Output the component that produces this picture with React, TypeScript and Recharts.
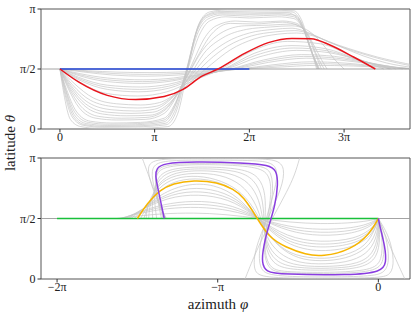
import { LineChart, Line, XAxis, YAxis, ReferenceArea } from 'recharts'

type Pt = [number, number | null]

// azimuth and latitude are both stored in units of pi
const yTicks = [0, 0.5, 1]
const yTickLabels = ['0', 'π/2', 'π']
const topXTicks = [0, 1, 2, 3]
const topXTickLabels = ['0', 'π', '2π', '3π']
const bottomXTicks = [-2, -1, 0]
const bottomXTickLabels = ['−2π', '−π', '0']

const topBlue: Pt[] = [[0, 0.5], [2, 0.5]]
const topRed: Pt[] = [
  [0, 0.5], [0.2, 0.39], [0.5, 0.28], [0.8, 0.245], [1.1, 0.27], [1.3, 0.33], [1.5, 0.44],
  [1.67, 0.5], [1.95, 0.63], [2.2, 0.72], [2.45, 0.755], [2.65, 0.752], [2.85, 0.7],
  [3.1, 0.6], [3.33, 0.5],
]
const topGray: Pt[][] = [
  [[0, .5], [0.3, .485], [0.6, .474], [0.95, .47], [1.3, .476], [1.6, .488], [1.95, .5], [2.3, .515], [2.7, .53], [3.1, .525], [3.45, .512], [3.8, .5]],
  [[0, .5], [0.27, .48], [0.57, .462], [0.92, .455], [1.27, .463], [1.57, .48], [1.92, .5], [2.27, .525], [2.67, .545], [3.05, .537], [3.4, .518], [3.78, .5]],
  [[0, .5], [0.25, .475], [0.55, .45], [0.9, .44], [1.25, .45], [1.55, .47], [1.9, .5], [2.25, .535], [2.65, .56], [3.0, .55], [3.35, .525], [3.75, .5]],
  [[0, .5], [0.22, .46], [0.5, .425], [0.88, .41], [1.2, .425], [1.5, .46], [1.85, .5], [2.2, .555], [2.6, .59], [2.95, .575], [3.3, .54], [3.7, .5]],
  [[0, .5], [0.21, .452], [0.5, .41], [0.87, .395], [1.19, .412], [1.49, .455], [1.82, .5], [2.17, .565], [2.57, .605], [2.92, .59], [3.27, .548], [3.66, .5]],
  [[0, .5], [0.2, .445], [0.5, .395], [0.86, .38], [1.18, .4], [1.48, .45], [1.8, .5], [2.15, .575], [2.55, .62], [2.9, .605], [3.25, .555], [3.62, .5]],
  [[0, .5], [0.2, .43], [0.5, .365], [0.85, .35], [1.16, .375], [1.45, .44], [1.76, .5], [2.1, .6], [2.5, .655], [2.85, .635], [3.2, .565], [3.55, .5]],
  [[0, .5], [0.2, .42], [0.5, .348], [0.84, .33], [1.15, .357], [1.43, .43], [1.74, .5], [2.07, .615], [2.47, .675], [2.82, .652], [3.17, .572], [3.5, .5]],
  [[0, .5], [0.2, .41], [0.5, .33], [0.83, .31], [1.15, .34], [1.42, .42], [1.73, .5], [2.05, .63], [2.45, .695], [2.8, .67], [3.15, .58], [3.48, .5]],
  [[0, .5], [0.2, .395], [0.5, .295], [0.82, .275], [1.13, .31], [1.4, .4], [1.7, .5], [2.0, .64], [2.4, .73], [2.75, .71], [3.1, .6], [3.42, .5]],
  [[0, .5], [0.15, .38], [0.35, .26], [0.6, .21], [0.85, .2], [1.05, .22], [1.25, .31], [1.45, .44], [1.6, .54], [1.8, .66], [2.05, .75], [2.3, .79], [2.5, .8], [2.7, .77], [2.95, .69], [3.2, .61], [3.45, .55], [3.75, .51]],
  [[0, .5], [0.13, .37], [0.32, .24], [0.58, .185], [0.82, .175], [1.02, .19], [1.22, .29], [1.42, .45], [1.57, .57], [1.77, .69], [2.02, .775], [2.28, .81], [2.48, .82], [2.65, .79], [2.85, .72], [3.1, .65], [3.4, .58], [3.75, .52]],
  [[0, .5], [0.12, .36], [0.3, .22], [0.55, .16], [0.8, .15], [1.0, .165], [1.2, .27], [1.4, .46], [1.55, .6], [1.75, .72], [2.0, .8], [2.25, .83], [2.45, .84], [2.6, .81], [2.8, .74], [3.05, .67], [3.35, .6], [3.75, .53]],
  [[0, .5], [0.11, .355], [0.27, .21], [0.5, .14], [0.75, .13], [0.98, .14], [1.18, .235], [1.38, .455], [1.52, .63], [1.72, .76], [1.97, .83], [2.22, .85], [2.45, .86], [2.62, .82], [2.78, .7], [2.9, .58], [3.0, .5]],
  [[0, .5], [0.1, .35], [0.25, .2], [0.45, .125], [0.7, .11], [0.95, .115], [1.15, .2], [1.35, .45], [1.5, .65], [1.7, .8], [1.95, .86], [2.2, .865], [2.45, .875], [2.58, .83], [2.68, .7], [2.76, .58], [2.82, .5]],
  [[0, .5], [0.09, .35], [0.22, .19], [0.41, .105], [0.65, .09], [0.92, .097], [1.12, .165], [1.3, .38], [1.45, .6], [1.6, .79], [1.8, .88], [2.05, .875], [2.35, .89], [2.52, .86], [2.64, .75], [2.72, .6], [2.79, .5]],
  [[0, .5], [0.08, .35], [0.2, .18], [0.38, .09], [0.6, .075], [0.9, .08], [1.1, .13], [1.25, .3], [1.4, .55], [1.52, .75], [1.65, .86], [1.85, .9], [2.1, .89], [2.35, .9], [2.5, .88], [2.6, .8], [2.7, .62], [2.76, .5]],
  [[0, .5], [0.07, .33], [0.17, .15], [0.32, .065], [0.55, .05], [0.85, .055], [1.1, .09], [1.22, .22], [1.35, .5], [1.47, .78], [1.58, .9], [1.75, .935], [2.0, .925], [2.3, .935], [2.47, .92], [2.57, .83], [2.66, .64], [2.74, .5]],
  [[0, .5], [0.065, .32], [0.16, .135], [0.3, .055], [0.52, .04], [0.82, .045], [1.1, .075], [1.21, .19], [1.33, .47], [1.45, .79], [1.56, .915], [1.72, .95], [2.0, .94], [2.3, .95], [2.47, .935], [2.56, .85], [2.65, .66], [2.735, .5]],
  [[0, .5], [0.06, .32], [0.15, .12], [0.28, .045], [0.5, .03], [0.8, .035], [1.1, .06], [1.2, .16], [1.32, .45], [1.44, .8], [1.55, .93], [1.7, .96], [2.0, .955], [2.3, .96], [2.47, .95], [2.56, .87], [2.64, .68], [2.73, .5]],
  [[0, .5], [0.055, .31], [0.14, .11], [0.26, .037], [0.47, .022], [0.8, .026], [1.11, .047], [1.21, .145], [1.325, .45], [1.445, .82], [1.555, .945], [1.7, .97], [2.05, .965], [2.4, .968], [2.5, .93], [2.59, .8], [2.67, .62], [2.725, .5]],
  [[0, .5], [0.05, .3], [0.13, .1], [0.25, .03], [0.45, .015], [0.8, .018], [1.12, .035], [1.22, .13], [1.33, .45], [1.45, .84], [1.56, .955], [1.7, .98], [2.1, .975], [2.45, .975], [2.54, .9], [2.62, .72], [2.72, .5]],
  [[0, .5], [0.04, .3], [0.11, .08], [0.22, .02], [0.4, .006], [0.8, .006], [1.14, .02], [1.24, .12], [1.35, .5], [1.47, .88], [1.58, .975], [1.75, .992], [2.2, .99], [2.47, .985], [2.55, .91], [2.63, .72], [2.71, .5]],
]

const bottomGreen: Pt[] = [[-2, 0.5], [0, 0.5]]
const bottomYellow: Pt[] = [
  [-1.5, 0.5], [-1.44, 0.625], [-1.36, 0.735], [-1.28, 0.79], [-1.15, 0.818], [-1.0, 0.8],
  [-0.9, 0.74], [-0.84, 0.68], [-0.76, 0.515], [-0.68, 0.34], [-0.58, 0.265], [-0.45, 0.2],
  [-0.35, 0.184], [-0.17, 0.24], [-0.05, 0.377], [0, 0.5],
]
const bottomPurple: Pt[] = [
  [-1.333, 0.5], [-1.37, 0.735], [-1.39, 0.86], [-1.38, 0.915], [-1.34, 0.956], [-1.15, 0.97],
  [-0.84, 0.961], [-0.68, 0.942], [-0.635, 0.9], [-0.623, 0.79], [-0.644, 0.6], [-0.675, 0.474],
  [-0.717, 0.267], [-0.726, 0.13], [-0.7, 0.06], [-0.61, 0.038], [-0.17, 0.03], [0.02, 0.06],
  [0.05, 0.13], [0.042, 0.267], [0.01, 0.43], [0, 0.5],
]
const bottomGray: Pt[][] = [
  [[0, .5], [-0.06, .48], [-0.18, .462], [-0.36, .455], [-0.55, .468], [-0.74, .5], [-0.95, .535], [-1.15, .548], [-1.35, .54], [-1.5, .52], [-1.63, .5]],
  [[0, .5], [-0.05, .46], [-0.16, .42], [-0.36, .405], [-0.56, .43], [-0.74, .5], [-0.92, .57], [-1.12, .598], [-1.32, .585], [-1.48, .545], [-1.61, .5]],
  [[0, .5], [-0.045, .45], [-0.155, .397], [-0.36, .378], [-0.56, .41], [-0.74, .5], [-0.91, .59], [-1.11, .625], [-1.31, .608], [-1.47, .558], [-1.6, .5]],
  [[0, .5], [-0.04, .44], [-0.15, .375], [-0.36, .352], [-0.56, .39], [-0.74, .5], [-0.9, .61], [-1.1, .65], [-1.3, .63], [-1.46, .57], [-1.59, .5]],
  [[0, .5], [-0.035, .42], [-0.14, .33], [-0.36, .3], [-0.57, .345], [-0.75, .5], [-0.89, .64], [-1.07, .7], [-1.27, .69], [-1.44, .6], [-1.57, .5]],
  [[0, .5], [-0.032, .41], [-0.135, .31], [-0.36, .275], [-0.575, .322], [-0.75, .5], [-0.885, .655], [-1.055, .725], [-1.245, .722], [-1.42, .625], [-1.555, .5]],
  [[0, .5], [-0.03, .4], [-0.13, .29], [-0.36, .25], [-0.58, .3], [-0.75, .5], [-0.88, .67], [-1.04, .75], [-1.22, .755], [-1.4, .65], [-1.54, .5]],
  [[0, .5], [-0.025, .39], [-0.12, .27], [-0.36, .215], [-0.58, .28], [-0.755, .5], [-0.87, .68], [-1.02, .785], [-1.2, .79], [-1.38, .69], [-1.52, .5]],
  [[0, .5], [-0.03, .375], [-0.1, .245], [-0.25, .18], [-0.36, .165], [-0.52, .19], [-0.63, .28], [-0.72, .44], [-0.75, .5], [-0.81, .63], [-0.9, .75], [-1.03, .82], [-1.18, .835], [-1.31, .79], [-1.41, .67], [-1.48, .5]],
  [[0, .5], [-0.015, .37], [-0.07, .25], [-0.2, .165], [-0.36, .145], [-0.5, .165], [-0.62, .26], [-0.7, .4], [-0.74, .5], [-0.8, .64], [-0.9, .77], [-1.05, .845], [-1.2, .855], [-1.32, .81], [-1.41, .69], [-1.46, .5]],
  [[0, .5], [-0.005, .365], [-0.05, .23], [-0.16, .145], [-0.33, .12], [-0.5, .13], [-0.625, .21], [-0.7, .35], [-0.73, .5], [-0.77, .645], [-0.85, .785], [-0.98, .865], [-1.15, .88], [-1.3, .85], [-1.39, .75], [-1.44, .6], [-1.445, .5]],
  [[0, .5], [0, .36], [-0.03, .21], [-0.12, .125], [-0.3, .1], [-0.5, .105], [-0.63, .165], [-0.7, .3], [-0.72, .5], [-0.74, .65], [-0.8, .8], [-0.92, .88], [-1.1, .9], [-1.27, .885], [-1.37, .8], [-1.42, .65], [-1.43, .5]],
  [[0, .5], [0.006, .355], [-0.018, .19], [-0.11, .107], [-0.3, .085], [-0.52, .09], [-0.645, .14], [-0.705, .29], [-0.712, .5], [-0.72, .675], [-0.77, .825], [-0.88, .9], [-1.1, .915], [-1.29, .9], [-1.375, .82], [-1.41, .675], [-1.405, .5]],
  [[0, .5], [0.012, .35], [-0.005, .17], [-0.1, .09], [-0.3, .07], [-0.55, .075], [-0.66, .12], [-0.71, .28], [-0.705, .5], [-0.7, .7], [-0.74, .85], [-0.85, .915], [-1.1, .93], [-1.3, .915], [-1.38, .84], [-1.4, .7], [-1.38, .5]],
  [[0, .5], [0.025, .35], [0.025, .15], [-0.04, .07], [-0.3, .052], [-0.6, .057], [-0.68, .09], [-0.715, .25], [-0.69, .5], [-0.665, .7], [-0.675, .88], [-0.78, .935], [-1.1, .95], [-1.32, .935], [-1.385, .88], [-1.39, .75], [-1.35, .5]],
  [[0, .5], [0.035, .35], [0.038, .14], [-0.02, .058], [-0.3, .042], [-0.6, .047], [-0.69, .075], [-0.72, .26], [-0.683, .49], [-0.655, .7], [-0.66, .89], [-0.73, .945], [-1.1, .96], [-1.33, .945], [-1.385, .9], [-1.39, .75], [-1.34, .5]],
  [[0, .5], [0.05, .35], [0.07, .16], [0.045, .05], [-0.05, .02], [-0.4, .015], [-0.68, .025], [-0.74, .08], [-0.745, .25], [-0.7, .5], [-0.64, .75], [-0.625, .9], [-0.665, .968], [-0.8, .982], [-1.2, .985], [-1.38, .972], [-1.415, .9], [-1.4, .75], [-1.325, .5]],
  [[0, .5], [0.07, .35], [0.1, .15], [0.08, .03], [0, .008], [-0.4, .005], [-0.72, .01], [-0.78, .06], [-0.77, .25], [-0.69, .5], [-0.6, .75], [-0.58, .92], [-0.63, .99], [-0.8, .995], [-1.2, .997], [-1.42, .99], [-1.44, .9], [-1.4, .72], [-1.325, .5]],
  // this one runs over the poles, so it comes back shifted by pi
  [[0, .5], [0.04, .37], [0.09, .22], [0.13, .1], [0.165, 0], [0.165, null], [-0.83, 0], [-0.77, .2], [-0.7, .4], [-0.64, .55], [-0.57, .72], [-0.52, .86], [-0.49, 1], [-0.49, null], [-1.47, 1], [-1.42, .82], [-1.37, .64], [-1.32, .5]],
]

const toRows = (pts: Pt[]) => pts.map(([u, v]) => ({ u, v }))

const serif = '"Liberation Serif", "DejaVu Serif", serif'
const tickStyle = { fontSize: 12, fill: '#222', fontFamily: serif }
const grayStroke = '#c6c6c6'

function Panel({ top, height, marginTop, marginBottom, domain, xTicks, xLabels, gray, lines, curve }: any) {
  return (
    <div style={{ position: 'absolute', left: 0, top, width: 416, height }}>
      <LineChart width={416} height={height} margin={{ top: marginTop, right: 6, bottom: marginBottom, left: 0 }}>
        <XAxis
          dataKey="u"
          type="number"
          domain={domain}
          allowDataOverflow
          ticks={xTicks}
          tickFormatter={(v: number) => xLabels[xTicks.indexOf(v)]}
          tick={tickStyle}
          tickSize={3.5}
          tickMargin={0}
          height={21}
          axisLine={false}
          stroke="#333"
        />
        <YAxis
          type="number"
          domain={[0, 1]}
          allowDataOverflow
          ticks={yTicks}
          tickFormatter={(v: number) => yTickLabels[yTicks.indexOf(v)]}
          tick={tickStyle}
          tickSize={3.5}
          tickMargin={2}
          width={41}
          axisLine={false}
          stroke="#333"
        />
        {gray.map((c: Pt[], i: number) => (
          <Line key={i} data={toRows(c)} dataKey="v" type={curve} stroke={grayStroke} strokeWidth={0.7}
            dot={false} activeDot={false} isAnimationActive={false} />
        ))}
        <Line data={toRows([[domain[0], 0.5], [domain[1], 0.5]])} dataKey="v" type="linear" stroke="#9a9a9a"
          strokeWidth={0.9} dot={false} activeDot={false} isAnimationActive={false} />
        {lines.map((l: any, i: number) => (
          <Line key={'c' + i} data={toRows(l.pts)} dataKey="v" type={curve} stroke={l.color} strokeWidth={1.5}
            dot={false} activeDot={false} isAnimationActive={false} />
        ))}
        <ReferenceArea x1={domain[0]} x2={domain[1]} y1={0} y2={1} fill="none" stroke="#555" strokeWidth={1} ifOverflow="visible" />
      </LineChart>
    </div>
  )
}

export default function App() {
  return (
    <div style={{ position: 'absolute', left: 0, top: 0, width: 416, height: 315, background: '#fff', fontFamily: serif }}>
      <Panel
        top={0}
        height={150}
        marginTop={9}
        marginBottom={0}
        domain={[-0.2, 3.696]}
        xTicks={topXTicks}
        xLabels={topXTickLabels}
        gray={topGray}
        curve="monotone"
        lines={[
          { pts: topBlue, color: '#2547d8' },
          { pts: topRed, color: '#e8141c' },
        ]}
      />
      <Panel
        top={150}
        height={165}
        marginTop={8}
        marginBottom={15}
        domain={[-2.1, 0.197]}
        xTicks={bottomXTicks}
        xLabels={bottomXTickLabels}
        gray={bottomGray}
        curve="basis"
        lines={[
          { pts: bottomGreen, color: '#19c03a' },
          { pts: bottomYellow, color: '#f7b500' },
          { pts: bottomPurple, color: '#8a3de0' },
        ]}
      />
      <div style={{ position: 'absolute', left: 10, top: 143, transform: 'translate(-50%, -50%) rotate(-90deg)', fontSize: 15, whiteSpace: 'nowrap', color: '#222' }}>
        latitude <i>θ</i>
      </div>
      <div style={{ position: 'absolute', left: 218, top: 304, transform: 'translate(-50%, -50%)', fontSize: 15, lineHeight: '15px', whiteSpace: 'nowrap', color: '#222' }}>
        azimuth <i>φ</i>
      </div>
    </div>
  )
}
